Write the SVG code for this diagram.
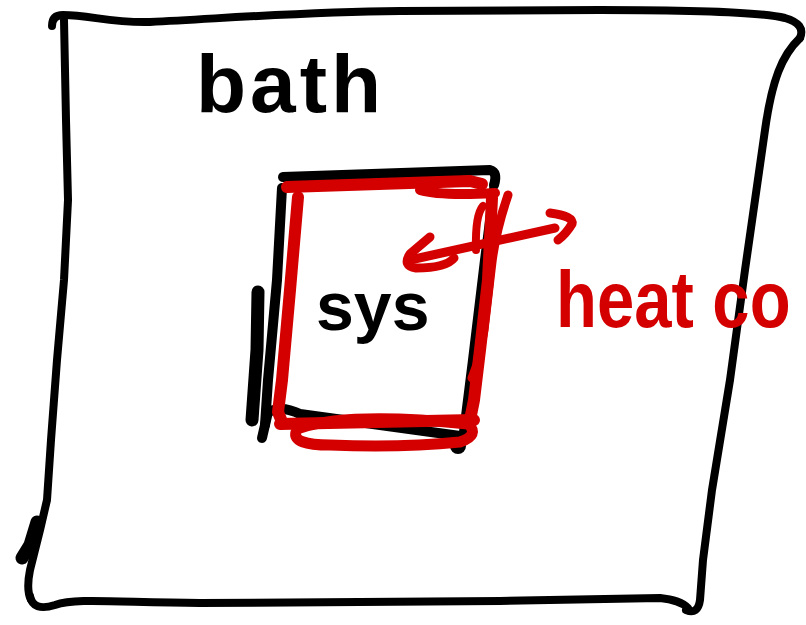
<svg xmlns="http://www.w3.org/2000/svg" width="806" height="625" viewBox="0 0 806 625">
<style>
.ink{fill:none;stroke:#000;stroke-linecap:round;stroke-linejoin:round}
.red{fill:none;stroke:#d40000;stroke-linecap:round;stroke-linejoin:round}
.hand{font-family:"Liberation Sans","DejaVu Sans",sans-serif;font-weight:bold}
</style>
<rect width="806" height="625" fill="#fff"/>
<g id="bath">
<path class="ink" stroke-width="8" d="M52 26 Q52 15 63 15 C90 15 110 23 150 22 C230 18 300 12 400 11 L600 10 C700 10 760 12 785 18 Q806 24 800 38"/>
<path class="ink" stroke-width="8" d="M800 38 C782 55 772 80 765 130 L745 270 L730 380 L712 490 L703 560 L700 600 Q698 615 686 610"/>
<path class="ink" stroke-width="8" d="M30 596 Q33 612 55 605 C75 598 110 602 200 603 L500 601 L660 598 Q680 600 688 608"/>
<path class="ink" stroke-width="8" d="M64 20 L66 120 L68 200 L64 280 L57 360 L51 440 L47 500 L40 530 L30 570 Q26 590 31 600"/>
<path class="ink" stroke-width="13" d="M37 522 L30 545 L22 558"/>
<text class="hand" x="196" y="112" font-size="82" letter-spacing="4" fill="#000">bath</text>
</g>
<g id="sys">
<path class="ink" stroke-width="10" d="M283 177 L490 170 Q498 172 494 185"/>
<path class="ink" stroke-width="8" d="M494 182 L484 260 L472 360 L462 440"/>
<path class="ink" stroke-width="10" d="M282 188 L277 280 L268 380 L265 425"/>
<path class="ink" stroke-width="13" d="M258 292 L257 350 L252 420"/>
<path class="ink" stroke-width="10" d="M262 438 L268 412 Q282 405 300 414 L460 436"/>
<circle cx="458" cy="446" r="8" fill="#000"/>
<path class="red" stroke-width="12" d="M287 187 L470 181 L482 184"/>
<path class="red" stroke-width="10" d="M420 190 Q440 196 495 193"/>
<path class="red" stroke-width="12" d="M298 197 L290 290 L282 380 L278 412 L282 422"/>
<path class="red" stroke-width="12" d="M492 198 L488 280 L480 350 L474 400 L470 420"/>
<path class="red" stroke-width="9" d="M508 195 Q496 230 492 262 L484 330 L478 362 L472 378"/>
<path class="red" stroke-width="8" d="M483 206 Q475 215 476 250"/>
<path class="red" stroke-width="12" d="M280 424 L474 420"/>
<path class="red" stroke-width="11" d="M300 428 Q350 412 468 424 Q480 435 460 442 Q400 448 330 445 Q292 445 296 432"/>
<text class="hand" x="316" y="330" font-size="68" fill="#000">sys</text>
</g>
<g id="connectors">
<path class="red" stroke-width="9" d="M410 260 L555 228"/>
<path class="red" stroke-width="9" d="M430 237 L410 254 Q402 266 416 268 Q446 268 454 258"/>
<path class="red" stroke-width="9" d="M550 213 Q574 216 572 224 Q566 234 558 240"/>
<text class="hand" transform="translate(556 327) scale(1 1.2)" x="0" y="0" font-size="67" fill="#d40000">heat co</text>
</g>
</svg>
